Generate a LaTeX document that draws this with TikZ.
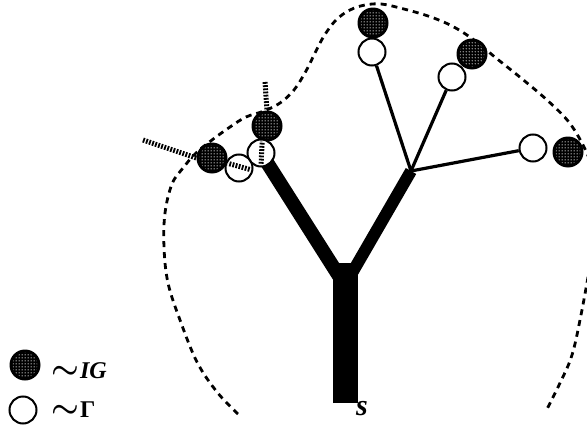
\documentclass[tikz,border=0pt]{standalone}
\usepackage{amsmath}
\usepackage{graphicx}
\usepackage{fontspec}
\setmainfont{Liberation Serif}
\usetikzlibrary{patterns}
\pgfdeclarepatternformonly{bigdots}{\pgfpointorigin}{\pgfqpoint{3pt}{3pt}}{\pgfqpoint{3pt}{3pt}}{%
  \pgfpathcircle{\pgfqpoint{1.5pt}{1.5pt}}{0.75pt}\pgfusepath{fill}}
\begin{document}
\begin{tikzpicture}[x=1pt,y=-1pt,
  curve/.style={line width=2.8pt, dash pattern=on 6pt off 5pt},
  dotline/.style={line width=5pt, dash pattern=on 1.8pt off 1.4pt},
  twig/.style={line width=3.2pt},
  igc/.style={circle, fill=black, minimum size=31pt, inner sep=0pt,
    path picture={\fill[pattern=bigdots, pattern color=white]
      (path picture bounding box.center) circle (12.5pt);}},
  gc/.style={circle, draw=black, line width=2pt, fill=white, minimum size=27pt, inner sep=0pt},
  lab/.style={anchor=base west, inner sep=0pt, font=\fontsize{24}{26}\selectfont\bfseries}]
\clip (0,0) rectangle (587,431);
% dashed boundary
\draw[curve] plot[smooth, tension=0.6] coordinates {(238,414) (217,392) (197,362) (180,320) (168,283) (164,247) (165,213) (172,184) (183,168) (196,153) (212,140) (230,127) (246,117) (264,111) (280,103) (294,90) (306,71) (315,53) (324,36) (336,20) (350,10) (365,5) (381,4) (400,8) (428,16) (452,26) (474,40) (496,58) (521,78) (547,100) (568,121) (582,143) (592,165)};
\draw[curve] plot[smooth, tension=0.6] coordinates {(590,266) (581,315) (572,355) (560,383) (546,411)};
% tree
\coordinate (j) at (411,171);
\coordinate (lb) at (339,276);
\coordinate (rb) at (352,273);
\coordinate (tb) at (345.5,403);
\coordinate (tt) at (345.5,263);
\node[igc] (d1) at (373,23) {};
\node[igc] (d2) at (472,54) {};
\node[igc] (d3) at (568,152) {};
\node[igc] (d4) at (267,126) {};
\node[igc] (d5) at (212,158) {};
\draw[line width=25pt] (tb) -- (tt);
\draw[line width=12pt] (rb) -- (j);
\node[gc] (w1) at (372,52) {};
\node[gc] (w2) at (452,77) {};
\node[gc] (w3) at (533,148) {};
\draw[line width=14pt] (lb) -- (261,153);
\node[gc] (w4) at (261,153) {};
\node[gc] (w5) at (239,168) {};
\draw[twig] (j) -- (w1);
\draw[twig] (j) -- (w2);
\draw[twig] (j) -- (w3);
% dotted lines
\coordinate (v0) at (265,82);
\coordinate (v1) at (261,166);
\coordinate (h0) at (143,140);
\coordinate (h1) at (252,170);
\draw[dotline] (v0) -- (d4.north);
\draw[dotline] (h0) -- (d5.west);
\begin{scope}
\clip (w4.center) circle (12pt) (w5.center) circle (12pt);
\draw[dotline] (v0) -- (v1);
\draw[dotline] (h0) -- (h1);
\end{scope}
\node[anchor=base west, inner sep=0pt, font=\fontsize{30}{32}\selectfont\bfseries\itshape] (s) at (356,415) {s};
% legend
\node[igc] (lg1) at (25,365) {};
\node[gc] (lg2) at (23,410) {};
\node[lab] (lt1) at (51,378) {\scalebox{1.25}{$\boldsymbol{\sim}$}\kern1pt\textit{IG}};
\node[lab] (lt2) at (51,417) {\scalebox{1.25}{$\boldsymbol{\sim}$}\kern1pt Γ};
\end{tikzpicture}
\end{document}
